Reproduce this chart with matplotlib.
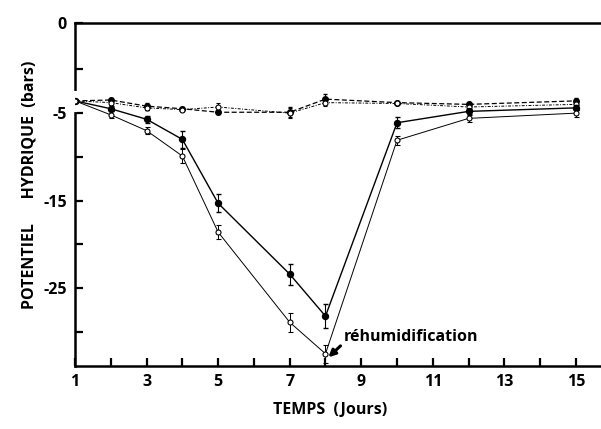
import matplotlib
matplotlib.use("Agg")
import matplotlib.pyplot as plt
from matplotlib.transforms import blended_transform_factory

days = [1, 2, 3, 4, 5, 7, 8, 10, 12, 15]

# stressed plants
stress_a = [-3.6, -4.5, -5.7, -8.0, -15.3, -23.4, -28.2, -6.1, -4.8, -4.4]
stress_a_err = [0.2, 0.3, 0.4, 1.0, 1.0, 1.2, 1.4, 0.6, 0.3, 0.3]
stress_b = [-3.6, -5.2, -7.0, -9.9, -18.6, -28.9, -32.5, -8.1, -5.6, -5.0]
stress_b_err = [0.2, 0.4, 0.4, 0.8, 0.8, 1.1, 1.0, 0.5, 0.4, 0.4]

# control plants
ctrl_a = [-3.6, -3.5, -4.2, -4.5, -4.9, -4.9, -3.4, -3.8, -4.0, -3.6]
ctrl_a_err = [0.1, 0.2, 0.4, 0.2, 0.2, 0.6, 0.6, 0.2, 0.3, 0.3]
ctrl_b = [-3.6, -3.8, -4.4, -4.6, -4.3, -5.0, -3.8, -3.9, -4.3, -4.0]
ctrl_b_err = [0.1, 0.3, 0.3, 0.2, 0.5, 0.6, 0.4, 0.2, 0.3, 0.3]

xticks = list(range(1, 16))
xticklabels = [str(d) if d % 2 == 1 else "" for d in xticks]
ytop = 5.3
yticks = [ytop, 0, -5, -10, -15, -20, -25, -30]
yticklabels = ["0", "", "-5", "", "-15", "", "-25", ""]

plt.rcParams['font.family'] = ['Open Sans', 'DejaVu Sans']

fig = plt.figure(figsize=(6.01, 4.29), dpi=100)
ax = fig.add_axes([75/601, 1-366/429, 1-75/601, (366-23)/429])

ax.errorbar(days, ctrl_a, yerr=ctrl_a_err, color='black', lw=0.9, ls=(0, (4, 2)),
            marker='o', ms=4, mfc='black', mec='black', elinewidth=0.7, capsize=1.5, zorder=4)
ax.errorbar(days, ctrl_b, yerr=ctrl_b_err, color='black', lw=0.7, ls=(0, (3, 1.5, 1, 1.5)),
            marker='o', ms=3.6, mfc='white', mec='black', mew=0.8, elinewidth=0.7, capsize=1.5, zorder=4)
ax.errorbar(days, stress_a, yerr=stress_a_err, color='black', lw=1.0, ls='-',
            marker='o', ms=4.3, mfc='black', mec='black', elinewidth=0.8, capsize=1.8, zorder=5)
ax.errorbar(days, stress_b, yerr=stress_b_err, color='black', lw=0.7, ls='-',
            marker='o', ms=3.6, mfc='white', mec='black', mew=0.8, elinewidth=0.7, capsize=1.8, zorder=5)

ax.set_xlim(1, 15.7)
ax.set_ylim(-33.9, ytop)
ax.set_xticks(xticks)
ax.set_xticklabels(xticklabels)
ax.set_yticks(yticks)
ax.set_yticklabels(yticklabels)
ax.tick_params(axis='both', direction='in', length=6, width=1.6, labelsize=11.5, pad=6)
for lab in ax.get_xticklabels() + ax.get_yticklabels():
    lab.set_fontweight('bold')

ax.spines['right'].set_visible(False)
for s in ['left', 'bottom', 'top']:
    ax.spines[s].set_linewidth(1.8)

# axis break on left spine
tr = blended_transform_factory(ax.transAxes, ax.transData)
ax.plot([0, 0], [-2.7, -4.6], color='white', lw=3, transform=tr, clip_on=False, zorder=2.7)

ax.text(8.5, -30.6, "réhumidification", fontsize=11.5, fontweight='bold',
        va='center', ha='left')
ax.annotate("", xy=(8.08, -32.9), xytext=(8.42, -31.6),
            arrowprops=dict(arrowstyle='-|>', color='black', lw=2.2, mutation_scale=10,
                            shrinkA=0, shrinkB=0))

fig.text(330/601, 1-410/429, "TEMPS  (Jours)", ha='center', va='center',
         fontsize=11.5, fontweight='bold')
fig.text(30/601, 1-185/429, "POTENTIEL      HYDRIQUE  (bars)", ha='center', va='center',
         rotation=90, fontsize=11.5, fontweight='bold')

fig.savefig("out.png", dpi=100)
